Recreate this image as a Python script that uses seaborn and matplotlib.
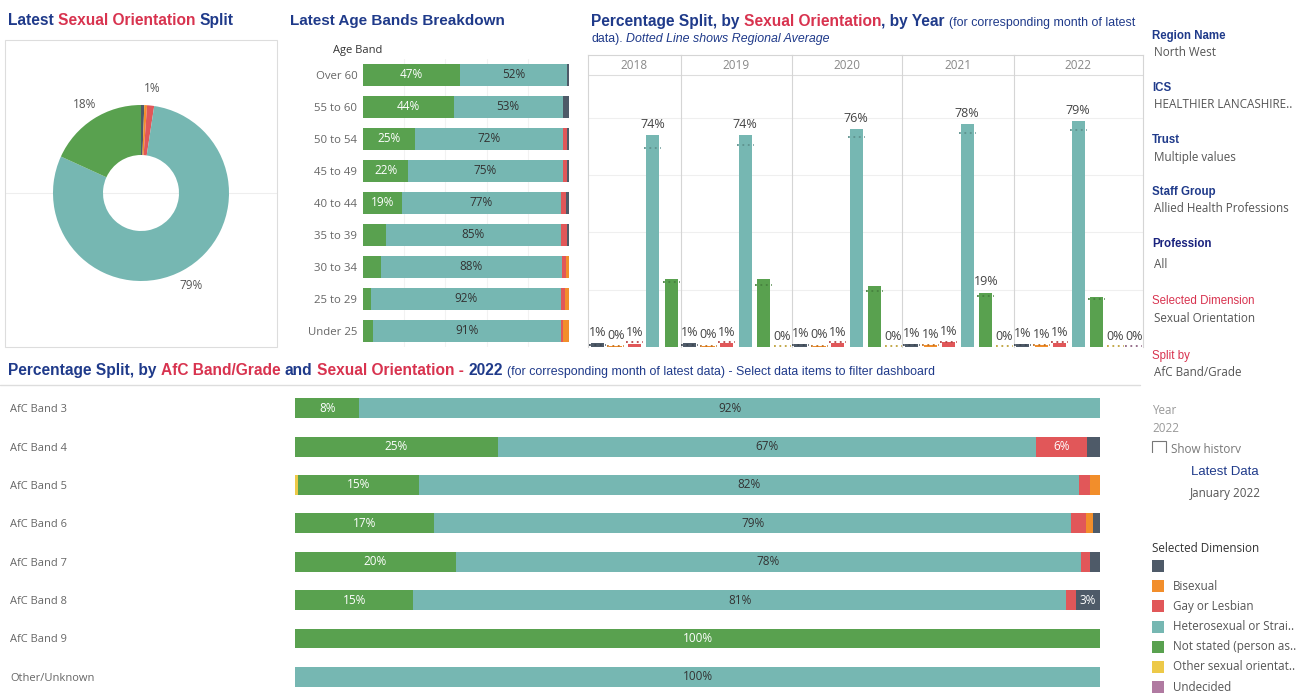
import numpy as np
import pandas as pd
import matplotlib
matplotlib.use('Agg')
import matplotlib.pyplot as plt
import seaborn as sns
from matplotlib.patches import Rectangle

W, H = 1311, 693

# --- colours (Tableau 10 palette) ---
C_BLANK = '#4e5a68'
C_BI = '#f28e2b'
C_GAY = '#e15759'
C_HET = '#76b7b2'
C_NS = '#59a14f'
C_OTHER = '#edc948'
C_UND = '#b07aa1'
BLUE = '#1f3a8a'
RED = '#d8334f'
GREY = '#666666'

# --- data: donut ---
donut_vals = [0.6, 0.5, 1.3, 79.4, 18.2]
donut_cols = [C_BLANK, C_BI, C_GAY, C_HET, C_NS]
donut_labels = ['', '', '1%', '79%', '18%']

# --- data: age bands (Not stated, Hetero, Gay, Bisexual, blank) ---
age_bands = ['Over 60', '55 to 60', '50 to 54', '45 to 49', '40 to 44',
             '35 to 39', '30 to 34', '25 to 29', 'Under 25']
age_ns = [47, 44, 25, 22, 19, 11, 8.5, 4, 5]
age_het = [52, 53, 72, 75, 77, 85, 88, 92, 91]
age_gay = [0, 0, 2, 2, 2.5, 3, 2, 2, 1]
age_bi = [0, 0, 0, 0, 0, 0, 1.5, 2, 3]
age_blank = [1, 3, 1, 1, 1.5, 1, 0, 0, 0]

# --- data: by year ---
years = ['2018', '2019', '2020', '2021', '2022']
yr_blank = [1.3, 1.3, 1.1, 1.1, 1.1]
yr_bi = [0.2, 0.5, 0.5, 0.6, 0.6]
yr_gay = [1.2, 1.4, 1.4, 1.6, 1.5]
yr_het = [74, 74, 76, 78, 79]
yr_ns = [23.8, 23.8, 21.3, 19.0, 17.4]
yr_other = [None, 0, 0, 0, 0]
yr_und = [None, None, None, None, 0]
# regional averages (dotted lines)
reg_blank = [0.6, 0.6, 0.6, 0.6, 0.6]
reg_bi = [0.4, 0.5, 0.5, 0.6, 0.6]
reg_gay = [1.8, 1.8, 1.8, 1.9, 1.9]
reg_het = [69.4, 70.6, 73.5, 74.8, 75.9]
reg_ns = [22.7, 21.5, 19.5, 17.7, 16.9]
reg_other = [0.2, 0.2, 0.2, 0.2, 0.2]
reg_und = [0.2, 0.2, 0.2, 0.2, 0.2]
lbl_2018 = ['1%', '0%', '1%', '74%', '']
lbl_2019 = ['1%', '0%', '1%', '74%', '', '0%']
lbl_2020 = ['1%', '0%', '1%', '76%', '', '0%']
lbl_2021 = ['1%', '1%', '1%', '78%', '19%', '0%']
lbl_2022 = ['1%', '1%', '1%', '79%', '', '0%', '0%']

# --- data: AfC bands (Other, Not stated, Hetero, Gay, Bisexual, blank) ---
afc_bands = ['AfC Band 3', 'AfC Band 4', 'AfC Band 5', 'AfC Band 6',
             'AfC Band 7', 'AfC Band 8', 'AfC Band 9', 'Other/Unknown']
afc_other = [0, 0, 0.4, 0, 0, 0, 0, 0]
afc_ns = [8, 25.2, 15, 17.3, 20, 14.7, 100, 0]
afc_het = [92, 66.8, 82, 79.1, 77.6, 81.1, 0, 100]
afc_gay = [0, 6.4, 1.3, 1.9, 1.2, 1.2, 0, 0]
afc_bi = [0, 0, 1.3, 0.8, 0, 0, 0, 0]
afc_blank = [0, 1.6, 0, 0.9, 1.2, 3, 0, 0]

legend_names = ['', 'Bisexual', 'Gay or Lesbian', 'Heterosexual or Strai..',
                'Not stated (person as..', 'Other sexual orientat..', 'Undecided']
legend_cols = [C_BLANK, C_BI, C_GAY, C_HET, C_NS, C_OTHER, C_UND]

sns.set_theme(style='white')
plt.rcParams['font.family'] = ['Open Sans', 'DejaVu Sans']
TITLE_FONT = ['Liberation Sans', 'DejaVu Sans']
NARROW_FONT = ['Liberation Sans Narrow', 'Liberation Sans']

fig = plt.figure(figsize=(W / 100, H / 100), dpi=100)


def px_axes(x0, y0, x1, y1):
    return fig.add_axes([x0 / W, 1 - y1 / H, (x1 - x0) / W, (y1 - y0) / H])


def darker(c, f=0.7):
    r, g, b = matplotlib.colors.to_rgb(c)
    return (r * f, g * f, b * f)


def stacked_barh(ax, labels, segs, cols, height):
    # seaborn stacked bars: draw cumulative totals, longest first
    cum = np.cumsum(np.array(segs, dtype=float), axis=0)
    df = pd.DataFrame({'label': labels})
    for i in range(len(segs) - 1, -1, -1):
        df['v'] = cum[i]
        sns.barplot(data=df, x='v', y='label', color=cols[i], orient='h',
                    saturation=1, width=height, linewidth=0, ax=ax)
    return cum


# ---------------- donut ----------------
ax = px_axes(5, 40, 277, 347)
ax.axhline(0, color='#eeeeee', lw=0.8, zorder=0)
wedges, texts = ax.pie(donut_vals, colors=donut_cols, radius=88, startangle=90,
                       counterclock=False, labels=donut_labels, labeldistance=1.19,
                       wedgeprops=dict(width=50, linewidth=0),
                       textprops=dict(color='#555555', fontsize=8.5))
for t in texts:
    t.set_ha('center')
    t.set_va('center')
ax.set_xlim(-136, 136)
ax.set_ylim(-154, 153)
ax.set_aspect('equal')
ax.set_xticks([])
ax.set_yticks([])

# ---------------- age bands ----------------
ax = px_axes(363, 59, 569, 347)
age_segs = [age_ns, age_het, age_gay, age_bi, age_blank]
age_cols = [C_NS, C_HET, C_GAY, C_BI, C_BLANK]
cum = stacked_barh(ax, age_bands, age_segs, age_cols, 0.7)
for j in range(len(age_bands)):
    for i, seg in enumerate(age_segs):
        if seg[j] >= 15:
            ax.text(cum[i][j] - seg[j] / 2, j, f'{round(seg[j])}%', ha='center', va='center',
                    fontsize=8.5, color='white' if age_cols[i] == C_NS else '#333333')
ax.set_xlim(0, 100)
ax.set_ylim(len(age_bands) - 0.5, -0.5)
ax.set_xticks([20, 40, 60, 80])
ax.set_xticklabels([])
ax.xaxis.grid(True, color='#f2f2f2', lw=0.8)
ax.set_axisbelow(True)
ax.tick_params(length=0)
ax.tick_params(axis='y', pad=4, labelsize=8.2, labelcolor=GREY)
ax.set_xlabel('')
ax.set_ylabel('')
sns.despine(ax=ax, left=True, bottom=True)

# ---------------- by year ----------------
yr_series = [yr_blank, yr_bi, yr_gay, yr_het, yr_ns, yr_other, yr_und]
reg_series = [reg_blank, reg_bi, reg_gay, reg_het, reg_ns, reg_other, reg_und]
yr_cols = [C_BLANK, C_BI, C_GAY, C_HET, C_NS, C_OTHER, C_UND]
yr_lbls = [lbl_2018, lbl_2019, lbl_2020, lbl_2021, lbl_2022]
slot = 18.5
x0 = 588
for k, yr in enumerate(years):
    idx = [i for i, s in enumerate(yr_series) if s[k] is not None]
    n = len(idx)
    ax = px_axes(x0, 55, x0 + n * slot, 347)
    x0 += n * slot
    df = pd.DataFrame({'cat': [str(i) for i in idx], 'val': [yr_series[i][k] for i in idx]})
    sns.barplot(data=df, x='cat', y='val', hue='cat', palette=[yr_cols[i] for i in idx],
                legend=False, saturation=1, width=0.72, linewidth=0, ax=ax)
    for p, i in enumerate(idx):
        ax.hlines(reg_series[i][k], p - 0.45, p + 0.45, colors=[darker(yr_cols[i], 0.8)],
                  linestyles=(0, (1, 2)), lw=1.3, zorder=5)
        lab = yr_lbls[k][p]
        if lab:
            ax.annotate(lab, (p, yr_series[i][k]), xytext=(0, 3), textcoords='offset points',
                        ha='center', va='bottom', fontsize=9, color='#444444')
    ax.set_xlim(-0.5, n - 0.5)
    ax.set_ylim(0, 102)
    ax.set_yticks([20, 40, 60, 80])
    ax.yaxis.grid(True, color='#efefef', lw=0.8)
    ax.set_axisbelow(True)
    ax.axhline(95, color='#dddddd', lw=0.8)
    ax.text((n - 1) / 2, 98.5, yr, ha='center', va='center', fontsize=8.5, color='#888888')
    ax.set_xticks([])
    ax.set_yticklabels([])
    ax.tick_params(length=0)
    ax.set_xlabel('')
    ax.set_ylabel('')
    for side, s in ax.spines.items():
        s.set_color('#d5d5d5')
        s.set_linewidth(0.8)
        s.set_visible(side in ('left', 'top') or (side == 'right' and k == len(years) - 1))

# ---------------- AfC bands ----------------
ax = px_axes(295, 389, 1100, 693)
afc_segs = [afc_other, afc_ns, afc_het, afc_gay, afc_bi, afc_blank]
afc_cols = [C_OTHER, C_NS, C_HET, C_GAY, C_BI, C_BLANK]
cum = stacked_barh(ax, afc_bands, afc_segs, afc_cols, 0.52)
for j in range(len(afc_bands)):
    for i, seg in enumerate(afc_segs):
        if seg[j] >= 2.5:
            ax.text(cum[i][j] - seg[j] / 2, j, f'{round(seg[j])}%', ha='center', va='center',
                    fontsize=8.5, color='#333333' if afc_cols[i] == C_HET else 'white')
ax.set_xlim(0, 100)
ax.set_ylim(7.42, -0.5)
ax.set_xticks([])
ax.tick_params(length=0)
ax.tick_params(axis='y', pad=205, labelsize=8, labelcolor=GREY)
for t in ax.get_yticklabels():
    t.set_ha('left')
ax.set_xlabel('')
ax.set_ylabel('')
sns.despine(ax=ax, left=True, bottom=True)

# ---------------- overlay: titles, filters, legend ----------------
ov = fig.add_axes([0, 0, 1, 1])
ov.set_xlim(0, W)
ov.set_ylim(H, 0)
ov.axis('off')
renderer = fig.canvas.get_renderer()


def rich(x, y, pieces):
    for txt, color, size, weight, style, fam, space in pieces:
        t = ov.text(x, y, txt, color=color, fontsize=size, fontweight=weight,
                    fontstyle=style, family=fam, va='baseline', ha='left')
        x += t.get_window_extent(renderer).width + (size * 0.39 if space else 0)


TS = 11.2
rich(8, 25, [('Latest', BLUE, TS, 'bold', 'normal', TITLE_FONT, True),
             ('Sexual Orientation', RED, TS, 'bold', 'normal', TITLE_FONT, True),
             ('Split', BLUE, TS, 'bold', 'normal', TITLE_FONT, False)])
rich(290, 25, [('Latest Age Bands Breakdown', BLUE, 11, 'bold', 'normal', TITLE_FONT, False)])
rich(591, 26, [('Percentage Split, by', BLUE, TS, 'bold', 'normal', TITLE_FONT, True),
               ('Sexual Orientation', RED, TS, 'bold', 'normal', TITLE_FONT, False),
               (', by Year', BLUE, TS, 'bold', 'normal', TITLE_FONT, True),
               ('(for corresponding month of latest', BLUE, 8.9, 'normal', 'normal', NARROW_FONT, False)])
rich(591, 42, [('data).', BLUE, 8.9, 'normal', 'normal', NARROW_FONT, True),
               ('Dotted Line shows Regional Average', BLUE, 8.9, 'normal', 'italic', NARROW_FONT, False)])
rich(8, 375, [('Percentage Split, by', BLUE, TS, 'bold', 'normal', TITLE_FONT, True),
              ('AfC Band/Grade', RED, TS, 'bold', 'normal', TITLE_FONT, True),
              ('and', BLUE, TS, 'bold', 'normal', TITLE_FONT, True),
              ('Sexual Orientation -', RED, TS, 'bold', 'normal', TITLE_FONT, True),
              ('2022', BLUE, TS, 'bold', 'normal', TITLE_FONT, True),
              ('(for corresponding month of latest data) - Select data items to filter dashboard',
               BLUE, 8.9, 'normal', 'normal', NARROW_FONT, False)])
ov.text(333, 50, 'Age Band', fontsize=8, color='#333333', va='center')
ov.add_patch(Rectangle((5, 40), 272, 307, fill=False, ec='#dddddd', lw=0.8))
ov.plot([0, 1140], [385, 385], color='#dddddd', lw=1)

filters = [('Region Name', 'North West', BLUE), ('ICS', 'HEALTHIER LANCASHIRE..', BLUE),
           ('Trust', 'Multiple values', BLUE), ('Staff Group', 'Allied Health Professions', BLUE),
           ('Profession', 'All', '#1a237e'), ('Selected Dimension', 'Sexual Orientation', RED),
           ('Split by', 'AfC Band/Grade', RED)]
fy = [36, 88, 140, 192, 244, 301, 356]
for (head, val, col), y in zip(filters, fy):
    bold = 'bold' if col != RED else 'normal'
    ov.text(1152, y, head, fontsize=8.3, color=col, fontweight=bold, family=TITLE_FONT, va='center')
    ov.text(1154, y + 17 + (3 if head == 'Profession' else 0), val, fontsize=8.4, color='#555555', va='center')
ov.text(1152, 411, 'Year', fontsize=8.4, color='#999999', va='center')
ov.text(1152, 428, '2022', fontsize=8.4, color='#999999', va='center')
ov.add_patch(Rectangle((1152, 441), 14, 14, fill=False, ec='#777777', lw=0.8))
ov.text(1171, 449, 'Show history', fontsize=8.4, color='#777777', va='center')
ov.add_patch(Rectangle((1145, 453), 166, 8, fc='white', ec='none', zorder=10))
ov.text(1225, 472, 'Latest Data', fontsize=9.5, color=BLUE, family=TITLE_FONT, ha='center', va='center')
ov.text(1225, 494, 'January 2022', fontsize=8.4, color='#555555', ha='center', va='center')
ov.text(1152, 549, 'Selected Dimension', fontsize=8.4, color='#333333', va='center')
for i, (name, col) in enumerate(zip(legend_names, legend_cols)):
    y = 566 + i * 20.2
    ov.add_patch(Rectangle((1152, y - 6), 12, 12, fc=col, ec='none'))
    ov.text(1173, y, name, fontsize=8.4, color='#555555', va='center')

fig.savefig('out.png', dpi=100)
